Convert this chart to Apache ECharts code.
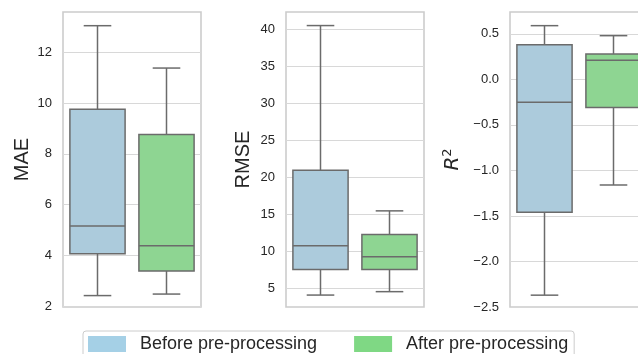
<!DOCTYPE html>
<html>
<head>
<meta charset="utf-8">
<script src="https://cdn.jsdelivr.net/npm/echarts@6/dist/echarts.min.js"></script>
<style>
html,body{margin:0;padding:0;background:#fff;}
#chart{width:638px;height:354px;}
</style>
</head>
<body>
<div id="chart"></div>
<script>
// ---- data ----
const groups = ['Before pre-processing', 'After pre-processing'];
const metrics = ['MAE', 'RMSE', 'R2'];
// [min, Q1, median, Q3, max]
const maeBefore  = [2.41, 4.06, 5.15, 9.76, 13.05];
const maeAfter   = [2.47, 3.38, 4.37, 8.76, 11.38];
const rmseBefore = [4.14, 7.6, 10.8, 20.97, 40.5];
const rmseAfter  = [4.6, 7.6, 9.3, 12.3, 15.5];
const r2Before   = [-2.37, -1.46, -0.25, 0.38, 0.59];
const r2After    = [-1.16, -0.31, 0.21, 0.28, 0.48];
const maeTicks  = [2, 4, 6, 8, 10, 12];
const rmseTicks = [5, 10, 15, 20, 25, 30, 35, 40];
const r2Ticks   = [-2.5, -2.0, -1.5, -1.0, -0.5, 0.0, 0.5];

const boxFill = ['#accbdc', '#8ed592'];
const legendFill = ['#a5d0e6', '#7fd884'];
const lineColor = '#6b6b6b';
const textColor = '#262626';
const font = 'Liberation Sans, Arial, sans-serif';

const panels = [
  {left: 63, ticks: maeTicks, min: 1.96, max: 13.59, data: [maeBefore, maeAfter], fmt: v => String(v), gap: 31, name: 'MAE'},
  {left: 286, ticks: rmseTicks, min: 2.53, max: 42.33, data: [rmseBefore, rmseAfter], fmt: v => String(v), gap: 33, name: 'RMSE'},
  {left: 510, ticks: r2Ticks, min: -2.5, max: 0.74, data: [r2Before, r2After], fmt: v => v.toFixed(1).replace('-', '\u2212'), gap: 46, name: '{r|R}{s|2}'}
];

function renderBox(fill) {
  return function (params, api) {
    const x = api.value(0);
    const band = api.size([1, 0])[0];
    const bw = band * 0.8;
    const cw = bw / 2;
    const pMin = api.coord([x, api.value(1)]);
    const pQ1 = api.coord([x, api.value(2)]);
    const pMed = api.coord([x, api.value(3)]);
    const pQ3 = api.coord([x, api.value(4)]);
    const pMax = api.coord([x, api.value(5)]);
    const cx = pMed[0];
    const ls = {stroke: lineColor, lineWidth: 1.5};
    return {
      type: 'group',
      children: [
        {type: 'line', shape: {x1: cx, y1: pMin[1], x2: cx, y2: pQ1[1]}, style: ls},
        {type: 'line', shape: {x1: cx, y1: pQ3[1], x2: cx, y2: pMax[1]}, style: ls},
        {type: 'line', shape: {x1: cx - cw / 2, y1: pMin[1], x2: cx + cw / 2, y2: pMin[1]}, style: ls},
        {type: 'line', shape: {x1: cx - cw / 2, y1: pMax[1], x2: cx + cw / 2, y2: pMax[1]}, style: ls},
        {type: 'rect', shape: {x: cx - bw / 2, y: pQ3[1], width: bw, height: pQ1[1] - pQ3[1]}, style: {fill: fill, stroke: lineColor, lineWidth: 1.5}},
        {type: 'line', shape: {x1: cx - bw / 2, y1: pMed[1], x2: cx + bw / 2, y2: pMed[1]}, style: ls}
      ]
    };
  };
}

const grid = [], xAxis = [], yAxis = [], series = [];
panels.forEach((p, i) => {
  grid.push({left: p.left, top: 12, width: 138, height: 295, show: true, borderColor: '#cccccc', borderWidth: 1.6, backgroundColor: 'transparent', outerBoundsMode: 'none', containLabel: false});
  xAxis.push({gridIndex: i, type: 'category', data: groups, axisLine: {show: false}, axisTick: {show: false}, axisLabel: {show: false}, splitLine: {show: false}});
  yAxis.push({
    gridIndex: i, type: 'value', min: p.min, max: p.max,
    name: p.name, nameLocation: 'middle', nameGap: p.gap,
    nameTextStyle: {fontSize: 20, color: textColor, fontFamily: font,
      rich: {r: {fontSize: 20, fontStyle: 'italic', color: textColor, fontFamily: 'DejaVu Sans'}, s: {fontSize: 13, color: textColor, fontFamily: 'DejaVu Sans', verticalAlign: 'top', padding: [0, 0, 10, 0]}}},
    axisLine: {show: false},
    axisTick: {show: false, customValues: p.ticks},
    axisLabel: {customValues: p.ticks, formatter: p.fmt, fontSize: 13, color: textColor, fontFamily: font, margin: 11},
    splitLine: {show: true, lineStyle: {color: '#d8d8d8', width: 1.2}}
  });
  p.data.forEach((d, g) => {
    series.push({
      name: groups[g], type: 'custom', xAxisIndex: i, yAxisIndex: i,
      itemStyle: {color: legendFill[g]},
      renderItem: renderBox(boxFill[g]),
      encode: {x: 0, y: [1, 2, 3, 4, 5]},
      data: [[g].concat(d)],
      clip: false,
      silent: true
    });
  });
});

const chart = echarts.init(document.getElementById('chart'), null, {renderer: 'canvas'});
chart.setOption({
  animation: false,
  backgroundColor: '#ffffff',
  grid: grid, xAxis: xAxis, yAxis: yAxis, series: series,
  legend: {
    left: 83, top: 331,
    padding: [4, 6, 8, 5],
    borderColor: '#cccccc', borderWidth: 1, borderRadius: 3,
    icon: 'rect', itemWidth: 38, itemHeight: 16, itemGap: 37,
    textStyle: {fontSize: 18, color: textColor, fontFamily: font, padding: [0, 0, 0, 9]},
    data: groups.map((g, i) => ({name: g, itemStyle: {color: legendFill[i], borderWidth: 0}}))
  }
});
</script>
</body>
</html>
